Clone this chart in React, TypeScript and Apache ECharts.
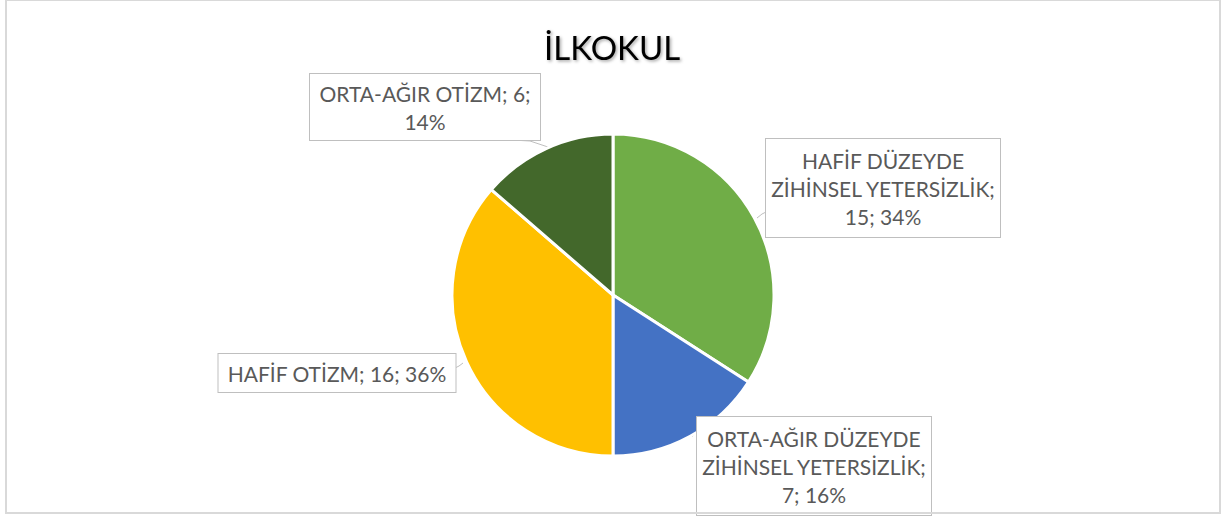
import React, { useEffect, useRef } from "react";
import * as echarts from "echarts";

const title = "İLKOKUL";
const categories = [
  "HAFİF DÜZEYDE\nZİHİNSEL YETERSİZLİK",
  "ORTA-AĞIR DÜZEYDE\nZİHİNSEL YETERSİZLİK",
  "HAFİF OTİZM",
  "ORTA-AĞIR OTİZM",
];
const values = [15, 7, 16, 6];
const colors = ["#70AD47", "#4472C4", "#FFC000", "#43682B"];
const labelTemplates = ["{b};\n{c}; {d}%", "{b};\n{c}; {d}%", "{b}; {c}; {d}%", "{b}; {c};\n{d}%"];

// label box centres, widths, and leader points (layout only)
const labelBoxes = [
  { x: 883, y: 188, w: 224, pad: [7, 5], line: [[757, 218], [762, 214], [766, 212]] },
  { x: 814, y: 466, w: 224, pad: [7, 5], line: [[692, 437], [695, 433], [697, 430]] },
  { x: 337, y: 373, w: 217, pad: [5, 10], line: [[463, 363], [459, 366], [455, 368]] },
  { x: 425, y: 107, w: 212, pad: [5, 9], line: [[548, 147], [530, 141], [512, 140]] },
];

export default function App() {
  const ref = useRef<HTMLDivElement>(null);
  useEffect(() => {
    if (!ref.current) return;
    const chart = echarts.init(ref.current, undefined, { renderer: "svg" });
    const font = "Lato";
    chart.setOption({
      animation: false,
      backgroundColor: "#ffffff",
      title: {
        text: title,
        left: 539,
        top: 25,
        textStyle: {
          fontFamily: font,
          fontSize: 33,
          fontWeight: "normal",
          color: "#000000",
          textShadowColor: "rgba(0,0,0,0.35)",
          textShadowBlur: 3,
          textShadowOffsetX: 1.5,
          textShadowOffsetY: 1.5,
        },
      },
      graphic: [
        {
          type: "rect",
          z: 100,
          silent: true,
          shape: { x: 6, y: 0, width: 1214, height: 513 },
          style: { fill: "none", stroke: "#D9D9D9", lineWidth: 2 },
        },
      ],
      series: [
        {
          type: "pie",
          center: [613, 295],
          radius: 161,
          startAngle: 90,
          clockwise: true,
          percentPrecision: 0,
          avoidLabelOverlap: false,
          itemStyle: { borderColor: "#ffffff", borderWidth: 3 },
          label: {
            show: true,
            fontFamily: font,
            fontSize: 21,
            color: "#595959",
            lineHeight: 28,
            align: "center",
            overflow: "none",
            backgroundColor: "#ffffff",
            borderColor: "#BFBFBF",
            borderWidth: 1,
          },
          labelLine: {
            show: true,
            lineStyle: { color: "#BFBFBF", width: 1 },
          },
          labelLayout: (p: any) => {
            const b = labelBoxes[p.dataIndex];
            return {
              x: b.x,
              y: b.y,
              align: "center",
              verticalAlign: "middle",
              hideOverlap: false,
              labelLinePoints: b.line,
            };
          },
          data: categories.map((name, i) => ({
            name,
            value: values[i],
            itemStyle: { color: colors[i] },
            label: {
              formatter: labelTemplates[i],
              width: labelBoxes[i].w,
              padding: labelBoxes[i].pad,
              overflow: "none",
            },
          })),
        },
      ],
    });
    return () => chart.dispose();
  }, []);
  return (
    <div
      ref={ref}
      style={{ position: "absolute", left: 0, top: 0, width: 1221, height: 516 }}
    />
  );
}
